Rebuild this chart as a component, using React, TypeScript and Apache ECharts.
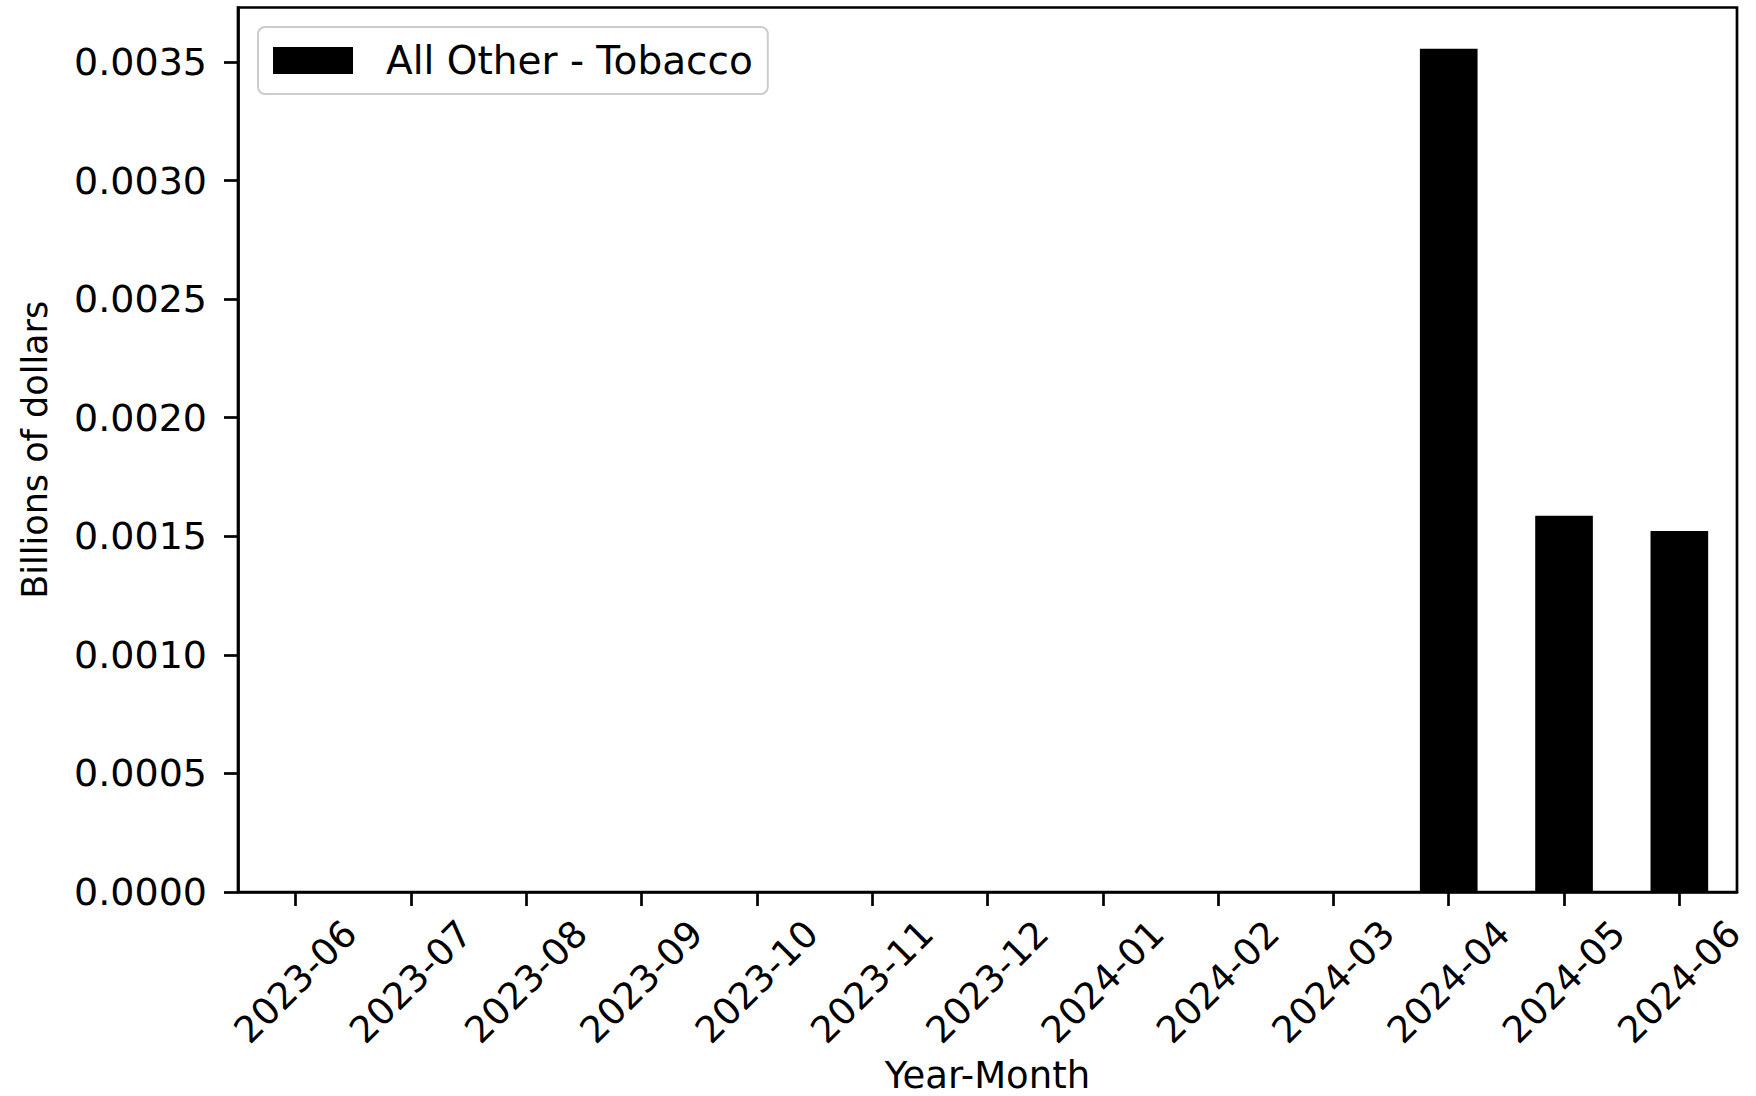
import React, { useEffect, useRef } from "react";
import * as echarts from "echarts";

const categories = [
  "2023-06", "2023-07", "2023-08", "2023-09", "2023-10", "2023-11", "2023-12",
  "2024-01", "2024-02", "2024-03", "2024-04", "2024-05", "2024-06",
];
const seriesName = "All Other - Tobacco";
const tobaccoValues = [0, 0, 0, 0, 0, 0, 0, 0, 0, 0, 0.003556, 0.001587, 0.001522];
const yTicks = [0, 0.0005, 0.001, 0.0015, 0.002, 0.0025, 0.003, 0.0035];
const yMax = 0.00373;

const FONT = "DejaVu Sans";

export default function App() {
  const ref = useRef<HTMLDivElement>(null);
  useEffect(() => {
    if (!ref.current) return;
    const chart = echarts.init(ref.current, undefined, { renderer: "svg" });
    chart.setOption({
      animation: false,
      backgroundColor: "#ffffff",
      textStyle: { fontFamily: FONT },
      grid: {
        left: 238,
        right: 19,
        top: 7.5,
        bottom: 204,
        show: true,
        borderColor: "#000000",
        borderWidth: 2.7,
        containLabel: false,
        outerBoundsMode: "none",
      },
      legend: {
        show: true,
        left: 258,
        top: 27,
        orient: "horizontal",
        itemWidth: 80,
        itemHeight: 27,
        padding: [14, 15, 14, 15],
        backgroundColor: "rgba(255,255,255,0.8)",
        borderColor: "#cccccc",
        borderWidth: 2,
        borderRadius: 7,
        selectedMode: false,
        textStyle: {
          fontFamily: FONT,
          fontSize: 39,
          color: "#000000",
          padding: [0, 0, 0, 28],
        },
        data: [{ name: seriesName, icon: "rect" }],
      },
      xAxis: {
        type: "category",
        data: categories,
        boundaryGap: true,
        name: "Year-Month",
        nameLocation: "middle",
        nameGap: 149,
        nameTextStyle: { fontFamily: FONT, fontSize: 37, color: "#000000" },
        axisLine: { show: true, lineStyle: { color: "#000000", width: 2.7 } },
        axisTick: {
          show: true,
          alignWithLabel: true,
          length: 14,
          lineStyle: { color: "#000000", width: 2.7 },
        },
        axisLabel: {
          show: true,
          interval: 0,
          rotate: 45,
          align: "center",
          verticalAlign: "middle",
          margin: 90,
          fontFamily: FONT,
          fontSize: 37,
          color: "#000000",
        },
        splitLine: { show: false },
      },
      yAxis: {
        type: "value",
        min: 0,
        max: yMax,
        interval: 0.0005,
        name: "Billions of dollars",
        nameLocation: "middle",
        nameRotate: 90,
        nameGap: 186,
        nameTextStyle: { fontFamily: FONT, fontSize: 35, color: "#000000" },
        axisLine: { show: true, lineStyle: { color: "#000000", width: 2.7 } },
        axisTick: {
          show: true,
          length: 14,
          customValues: yTicks,
          lineStyle: { color: "#000000", width: 2.7 },
        },
        axisLabel: {
          show: true,
          margin: 31,
          customValues: yTicks,
          fontFamily: FONT,
          fontSize: 38,
          color: "#000000",
          formatter: (v: number) => v.toFixed(4),
        },
        splitLine: { show: false },
      },
      series: [
        {
          name: seriesName,
          type: "bar",
          data: tobaccoValues,
          barWidth: "50%",
          itemStyle: { color: "#000000" },
        },
      ],
    });
    return () => chart.dispose();
  }, []);
  return (
    <div
      ref={ref}
      style={{ position: "fixed", left: 0, top: 0, width: 1756, height: 1096 }}
    />
  );
}
